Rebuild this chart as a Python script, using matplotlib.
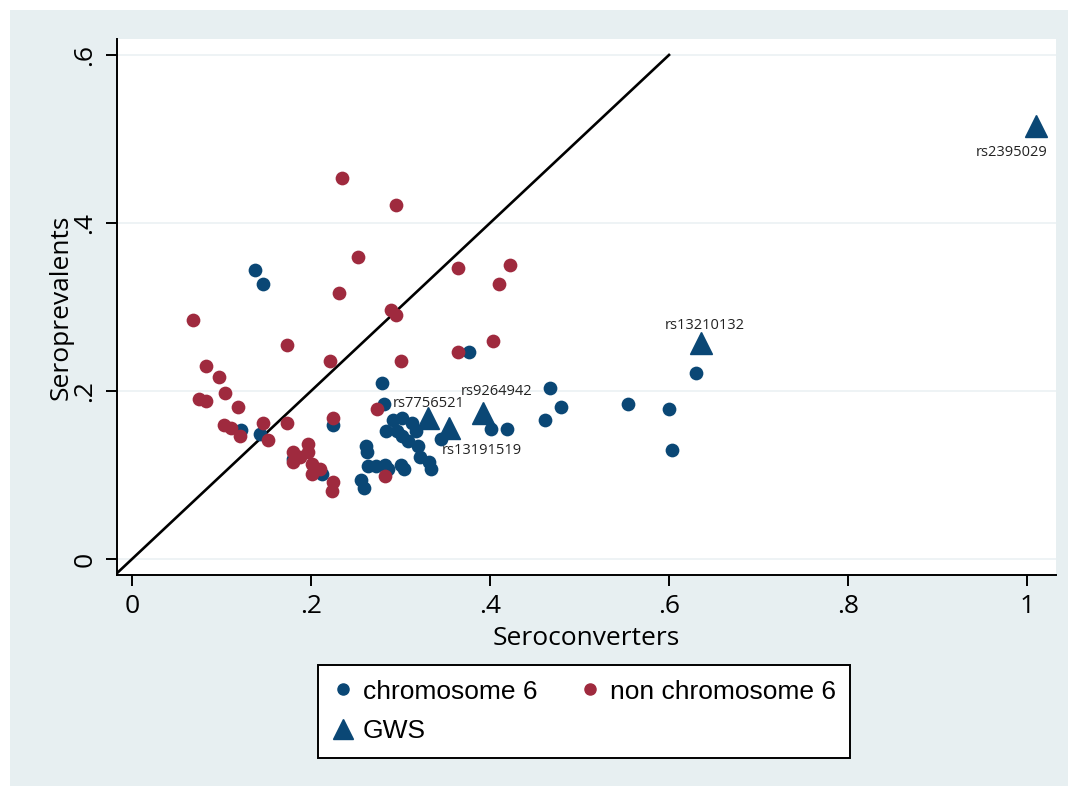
import matplotlib
matplotlib.use("Agg")
import matplotlib.pyplot as plt
from matplotlib.lines import Line2D
from matplotlib.patches import Rectangle

BLUE = "#0a4775"
RED = "#9f2a3e"
PANEL = "#e7eff1"

# chromosome 6 SNPs (seroconverters, seroprevalents)
chr6_x = [0.137, 0.146, 0.122, 0.143, 0.225, 0.180, 0.212, 0.377, 0.279, 0.282,
          0.467, 0.479, 0.461, 0.554, 0.600, 0.630, 0.603, 0.401, 0.419, 0.345,
          0.292, 0.302, 0.313, 0.284, 0.296, 0.302, 0.308, 0.320, 0.322, 0.332,
          0.334, 0.261, 0.263, 0.264, 0.273, 0.283, 0.286, 0.301, 0.304, 0.256,
          0.259, 0.317]
chr6_y = [0.344, 0.327, 0.153, 0.149, 0.159, 0.119, 0.101, 0.247, 0.210, 0.185,
          0.204, 0.181, 0.166, 0.185, 0.179, 0.221, 0.130, 0.155, 0.155, 0.143,
          0.166, 0.168, 0.162, 0.152, 0.152, 0.146, 0.140, 0.134, 0.122, 0.116,
          0.107, 0.135, 0.127, 0.111, 0.111, 0.112, 0.107, 0.112, 0.107, 0.094,
          0.085, 0.152]

# SNPs on other chromosomes
other_x = [0.068, 0.075, 0.083, 0.083, 0.097, 0.104, 0.118, 0.103, 0.111, 0.121,
           0.146, 0.152, 0.173, 0.173, 0.235, 0.252, 0.231, 0.221, 0.295, 0.289,
           0.295, 0.301, 0.364, 0.422, 0.410, 0.364, 0.403, 0.274, 0.225, 0.180,
           0.197, 0.197, 0.188, 0.180, 0.201, 0.201, 0.210, 0.225, 0.223, 0.283]
other_y = [0.285, 0.191, 0.188, 0.230, 0.217, 0.198, 0.181, 0.159, 0.156, 0.147,
           0.162, 0.142, 0.255, 0.162, 0.453, 0.359, 0.317, 0.236, 0.421, 0.297,
           0.291, 0.236, 0.346, 0.350, 0.327, 0.247, 0.259, 0.179, 0.168, 0.128,
           0.137, 0.128, 0.122, 0.116, 0.113, 0.101, 0.107, 0.092, 0.081, 0.099]

# genome-wide significant hits
gws_names = ["rs2395029", "rs13210132", "rs9264942", "rs7756521", "rs13191519"]
gws_x = [1.010, 0.636, 0.392, 0.331, 0.354]
gws_y = [0.515, 0.257, 0.174, 0.168, 0.156]
# label offsets in pixels (dx, dy) from each marker
gws_offsets = [(-24, -26), (4, 18), (14, 21), (0, 14), (33, -23)]

diag = [-0.02, 0.6]

xticks = [0, 0.2, 0.4, 0.6, 0.8, 1.0]
xtick_labels = ["0", ".2", ".4", ".6", ".8", "1"]
yticks = [0, 0.2, 0.4, 0.6]
ytick_labels = ["0", ".2", ".4", ".6"]

plt.rcParams["font.family"] = ["Open Sans", "DejaVu Sans"]

fig = plt.figure(figsize=(10.68, 7.86), dpi=100, facecolor="white")
fig.patches.append(Rectangle((10 / 1068, 0), 1, 1 - 10 / 786, transform=fig.transFigure,
                             facecolor=PANEL, edgecolor="none", zorder=-10))

ax = fig.add_axes([117 / 1068, 1 - 575 / 786, (1056 - 117) / 1068, (575 - 39) / 786])
ax.set_facecolor("white")

ax.set_xlim(-0.0168, 1.0324)
ax.set_ylim(-0.019, 0.619)

for yv in yticks:
    ax.axhline(yv, color="#eef3f5", lw=1.4, zorder=0)

ax.plot(diag, diag, color="black", lw=1.9, zorder=1)

ax.scatter(chr6_x, chr6_y, s=98, color=BLUE, linewidths=0, zorder=2)
ax.scatter(other_x, other_y, s=98, color=RED, linewidths=0, zorder=3)
ax.plot(gws_x, gws_y, linestyle="none", marker="^", markersize=16, color=BLUE, zorder=4)

for name, gx, gy, (dx, dy) in zip(gws_names, gws_x, gws_y, gws_offsets):
    ax.annotate(name, (gx, gy), xytext=(dx, dy), textcoords="offset pixels",
                ha="center", va="center", fontsize=10.5, color="#222222", zorder=5)

for side in ["top", "right"]:
    ax.spines[side].set_visible(False)
for side in ["left", "bottom"]:
    ax.spines[side].set_linewidth(1.4)

ax.set_xticks(xticks)
ax.set_xticklabels(xtick_labels)
ax.set_yticks(yticks)
ax.set_yticklabels(ytick_labels, rotation=90, va="center")
ax.tick_params(axis="both", direction="out", length=8, width=1.4, labelsize=19, pad=6)

ax.set_xlabel("Seroconverters", fontsize=19, labelpad=5)
ax.set_ylabel("Seroprevalents", fontsize=19, labelpad=-1)

handles = [
    Line2D([], [], linestyle="none", marker="o", markersize=8, color=BLUE),
    Line2D([], [], linestyle="none", marker="^", markersize=14, color=BLUE),
    Line2D([], [], linestyle="none", marker="o", markersize=8, color=RED),
]
labels = ["chromosome 6", "GWS", "non chromosome 6"]
leg = fig.legend(handles, labels, ncol=2, loc="upper left",
                 bbox_to_anchor=(318 / 1068, 1 - 665 / 786), borderaxespad=0,
                 prop={"family": ["Liberation Sans", "DejaVu Sans"], "size": 19},
                 frameon=True, fancybox=False, edgecolor="black", facecolor="white",
                 framealpha=1, handlelength=0.8, handletextpad=0.35, columnspacing=1.6,
                 labelspacing=0.6, borderpad=0.55)
leg.get_frame().set_linewidth(1.4)

fig.savefig("out.png", dpi=100, facecolor="white")
